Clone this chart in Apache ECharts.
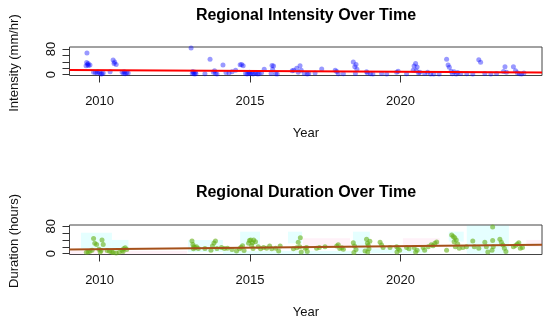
<!DOCTYPE html>
<html><head><meta charset="utf-8">
<script src="https://cdn.jsdelivr.net/npm/echarts@6/dist/echarts.min.js"></script>
<style>html,body{margin:0;padding:0;background:#fff}#c{width:550px;height:324px}</style>
</head><body><div id="c"></div>
<script>
// ---- data ----
const xTicks = [2010, 2015, 2020];
const intensityTicks = [0, 20, 40, 60, 80];
const intensityLabels = [0, 80];
const durationTicks = [0, 20, 40, 60, 80];
const durationLabels = [0, 80];

const intensityPoints = [
 [2009.58,68],[2009.57,38],[2009.6,32],[2009.63,29],[2009.68,30],[2009.55,28],[2009.62,35],
 [2009.8,8],[2009.86,7],[2009.92,5],[2010.0,6],[2010.08,3],[2010.12,5],[2009.95,9],[2010.05,2],
 [2010.35,9],[2010.45,46],[2010.5,40],[2010.55,32],[2010.48,35],
 [2010.75,8],[2010.8,4],[2010.85,3],[2010.9,6],[2010.95,5],[2010.82,9],
 [2013.04,83],[2013.1,10],[2013.12,5],[2013.15,2],[2013.2,3],[2013.08,4],[2013.18,8],
 [2013.5,3],[2013.67,48],[2013.78,8],[2013.85,4],[2013.9,2],[2013.82,12],
 [2014.1,30],[2014.2,7],[2014.3,5],[2014.4,9],[2014.52,14],
 [2014.67,31],[2014.72,32],[2014.77,28],
 [2014.85,4],[2014.9,2],[2014.95,5],[2015.0,3],[2015.05,6],[2015.1,2],[2015.15,4],[2015.2,5],[2015.3,3],[2015.38,6],[2014.98,8],[2015.25,2],
 [2015.47,17],[2015.73,29],[2015.78,27],[2015.75,16],[2015.7,4],[2015.85,3],[2015.9,2],
 [2016.4,12],[2016.45,14],[2016.55,20],[2016.6,8],[2016.66,28],[2016.7,14],[2016.8,4],[2016.9,2],[2016.95,4],
 [2017.16,5],[2017.38,18],[2017.83,14],[2017.88,10],[2017.93,3],[2018.1,3],
 [2018.43,40],[2018.48,25],[2018.55,17],[2018.5,4],[2018.52,32],[2018.87,9],
 [2018.9,5],[2019.0,3],[2019.08,2],[2019.37,4],[2019.54,2],[2019.87,8],[2019.92,11],[2020.2,3],
 [2020.42,14],[2020.45,27],[2020.5,35],[2020.55,24],[2020.6,5],[2020.64,8],[2020.52,12],
 [2020.8,4],[2021.0,2],[2021.1,2],[2021.28,2],[2020.9,8],
 [2021.53,48],[2021.58,30],[2021.62,23],[2021.68,11],[2021.78,9],[2021.9,7],[2022.0,4],[2021.72,3],[2021.85,2],
 [2022.2,3],[2022.4,2],[2022.6,47],[2022.66,39],
 [2022.8,4],[2023.0,2],[2023.19,4],[2023.42,10],[2023.47,25],[2023.52,8],
 [2023.75,25],[2023.82,12],[2023.88,6],[2023.95,3],[2024.02,2],[2024.1,5]
];

const durationPoints = [
 [2009.56,4],[2009.62,5],[2009.68,7],[2009.75,10],[2009.8,44],[2010.08,40],[2009.9,27],[2010.12,27],
 [2009.84,30],[2009.98,13],[2010.05,9],[2010.02,5],
 [2010.25,9],[2010.33,7],[2010.4,5],[2010.45,3],[2010.55,2],[2010.65,4],
 [2010.75,10],[2010.8,14],[2010.85,17],[2010.9,12],[2010.78,6],
 [2013.07,37],[2013.1,27],[2013.13,20],[2013.17,18],[2013.12,14],[2013.22,20],[2013.28,15],
 [2013.5,15],[2013.85,37],[2013.8,31],[2013.75,22],[2013.9,15],[2013.7,10],
 [2014.05,18],[2014.15,15],[2014.25,16],[2014.4,12],
 [2014.55,8],[2014.65,14],[2014.7,19],[2014.75,23],[2014.8,9],
 [2014.95,30],[2014.98,38],[2015.02,40],[2015.08,32],[2015.12,40],[2015.18,35],[2015.05,24],[2015.1,15],
 [2015.27,20],[2015.35,14],[2015.45,18],[2015.55,16],[2015.65,22],
 [2015.72,14],[2015.85,16],[2015.95,8],[2016.0,22],
 [2016.44,14],[2016.55,17],[2016.6,33],[2016.67,46],[2016.65,20],[2016.7,5],[2016.88,18],
 [2016.83,16],[2016.9,6],[2017.21,16],[2017.49,20],[2017.3,18],
 [2017.88,22],[2017.93,26],[2017.98,15],[2018.05,17],[2018.1,13],
 [2018.43,32],[2018.47,22],[2018.52,12],[2018.45,3],[2018.82,8],
 [2018.87,42],[2018.9,30],[2018.93,24],[2018.95,14],[2018.98,36],[2018.91,5],
 [2019.32,33],[2019.37,25],[2019.42,18],[2019.65,18],
 [2019.87,20],[2019.92,15],[2019.97,10],[2019.88,5],
 [2020.2,18],[2020.28,14],[2020.45,18],[2020.55,10],[2020.5,5],
 [2020.75,18],[2020.8,10],[2020.92,20],[2021.02,26],[2021.08,23],[2021.14,30],[2021.2,34],
 [2021.53,10],[2021.7,54],[2021.75,50],[2021.8,46],[2021.85,40],[2021.78,35],[2021.82,20],[2021.9,28],[2021.95,16],
 [2022.07,18],[2022.19,20],[2022.4,37],[2022.45,20],[2022.6,16],
 [2022.8,33],[2022.85,20],[2022.9,5],[2023.06,78],[2023.06,38],[2023.08,20],[2023.04,10],
 [2023.3,42],[2023.35,33],[2023.4,25],[2023.45,16],[2023.5,6],
 [2023.75,20],[2023.82,24],[2023.88,28],[2023.93,32],[2023.98,16],[2024.05,18]
];

const intensityTrend = [[2009.0, 14.5], [2024.7, 7.0]];
const durationTrend = [[2009.0, 12.0], [2024.7, 26.0]];

// shaded bands in duration panel: [x0, x1, y0, y1]
const cyanBands = [
 [2009.38,2010.41,15,61],[2010.41,2010.96,10,40],[2012.94,2014.1,5,40],
 [2014.67,2015.33,25,64],[2016.26,2016.73,30,64],[2018.42,2018.98,0,64],
 [2021.6,2022.1,35,64],[2022.2,2023.6,0,82],[2014.1,2018.4,-3,8],[2019.0,2020.9,1,15]
];
const pinkBands = [
 [2009.0,2012.9,-3,8],[2016.76,2018.32,20,45],[2020.08,2021.3,25,45],[2024.18,2024.7,20,40]
];

// ---- layout ----
const X_MIN = 2009.0, X_MAX = 2024.7;
const P = [
  {left:69.5, top:47, width:472.5, height:28.5, yMin:-2.5, yMax:86.5},
  {left:69.5, top:225, width:472.5, height:29.5, yMin:-2.5, yMax:83.5}
];
const FONT = 'Liberation Sans, Arial, Helvetica, sans-serif';
const px = (p, v) => p.left + (v - X_MIN) / (X_MAX - X_MIN) * p.width;
const py = (p, v) => p.top + (p.yMax - v) / (p.yMax - p.yMin) * p.height;

const grids = [], xAxes = [], yAxes = [];
const hiddenAxis = (gi, extra) => Object.assign({type:'value', gridIndex:gi, show:false, splitLine:{show:false}}, extra);
const yTickSets = [[intensityTicks, intensityLabels], [durationTicks, durationLabels]];
P.forEach((p, i) => {
  grids.push({left:p.left, top:p.top, width:p.width, height:p.height, show:true, borderColor:'#444', borderWidth:1, backgroundColor:'transparent'});
  xAxes.push(hiddenAxis(grids.length-1, {min:X_MIN, max:X_MAX}));
  yAxes.push(hiddenAxis(grids.length-1, {min:p.yMin, max:p.yMax}));
});
P.forEach((p, i) => {
  const x0 = px(p, xTicks[0]), x1 = px(p, xTicks[xTicks.length-1]);
  grids.push({left:x0, top:p.top, width:x1-x0, height:p.height, show:false});
  const gi = grids.length-1;
  xAxes.push({type:'value', gridIndex:gi, min:xTicks[0], max:xTicks[xTicks.length-1], interval:xTicks[1]-xTicks[0],
    position:'bottom', axisLine:{show:true, onZero:false, lineStyle:{color:'#444', width:1}}, splitLine:{show:false},
    axisTick:{show:true, inside:false, length:7, lineStyle:{color:'#333', width:1}},
    axisLabel:{show:true, margin:19, color:'#111', fontSize:13, fontFamily:FONT, formatter:(v)=>String(Math.round(v))}});
  yAxes.push(hiddenAxis(gi, {min:0, max:1}));
  const [tk, lb] = yTickSets[i];
  const yTop = py(p, tk[tk.length-1]), yBot = py(p, tk[0]);
  grids.push({left:p.left, top:yTop, width:p.width, height:yBot-yTop, show:false});
  const gj = grids.length-1;
  xAxes.push(hiddenAxis(gj, {min:0, max:1}));
  yAxes.push({type:'value', gridIndex:gj, min:tk[0], max:tk[tk.length-1], interval:tk[1]-tk[0],
    position:'left', axisLine:{show:true, onZero:false, lineStyle:{color:'#444', width:1}}, splitLine:{show:false},
    axisTick:{show:true, inside:false, length:7, lineStyle:{color:'#333', width:1}},
    axisLabel:{show:true, rotate:90, margin:12, color:'#111', fontSize:13, fontFamily:FONT,
      formatter:(v)=> lb.indexOf(Math.round(v))>=0 ? String(Math.round(v)) : ''}});
});

const chart = echarts.init(document.getElementById('c'), null, {renderer:'canvas'});
const toArea = (b, color) => [{xAxis:b[0], yAxis:b[2], itemStyle:{color}}, {xAxis:b[1], yAxis:b[3]}];

chart.setOption({
  animation:false,
  grid:grids, xAxis:xAxes, yAxis:yAxes,
  series:[
    {type:'scatter', xAxisIndex:0, yAxisIndex:0, data:intensityPoints, symbolSize:5, z:2,
     itemStyle:{color:'rgba(0,0,255,0.5)'}},
    {type:'line', xAxisIndex:0, yAxisIndex:0, data:intensityTrend, symbol:'none', z:5,
     lineStyle:{color:'#ff0000', width:2}},
    {type:'scatter', xAxisIndex:1, yAxisIndex:1, data:durationPoints, symbolSize:5, z:2,
     itemStyle:{color:'rgba(100,175,20,0.75)'},
     markArea:{silent:true, data:[
       ...cyanBands.map(b=>toArea(b,'rgba(0,255,255,0.10)')),
       ...pinkBands.map(b=>toArea(b,'rgba(255,105,180,0.09)'))
     ]}},
    {type:'line', xAxisIndex:1, yAxisIndex:1, data:durationTrend, symbol:'none', z:5,
     lineStyle:{color:'#a5501a', width:2}}
  ],
  graphic:[
    {type:'text', x:306, y:16, style:{text:'Regional Intensity Over Time', align:'center', verticalAlign:'middle', font:'bold 16px '+FONT, fill:'#000'}},
    {type:'text', x:306, y:193, style:{text:'Regional Duration Over Time', align:'center', verticalAlign:'middle', font:'bold 16px '+FONT, fill:'#000'}},
    {type:'text', x:306, y:133, style:{text:'Year', align:'center', verticalAlign:'middle', font:'13px '+FONT, fill:'#111'}},
    {type:'text', x:306, y:312, style:{text:'Year', align:'center', verticalAlign:'middle', font:'13px '+FONT, fill:'#111'}},
    {type:'text', x:14, y:63, rotation:Math.PI/2, style:{text:'Intensity (mm/hr)', align:'center', verticalAlign:'middle', font:'13px '+FONT, fill:'#111'}},
    {type:'text', x:14, y:241, rotation:Math.PI/2, style:{text:'Duration (hours)', align:'center', verticalAlign:'middle', font:'13px '+FONT, fill:'#111'}}
  ]
});
</script></body></html>
